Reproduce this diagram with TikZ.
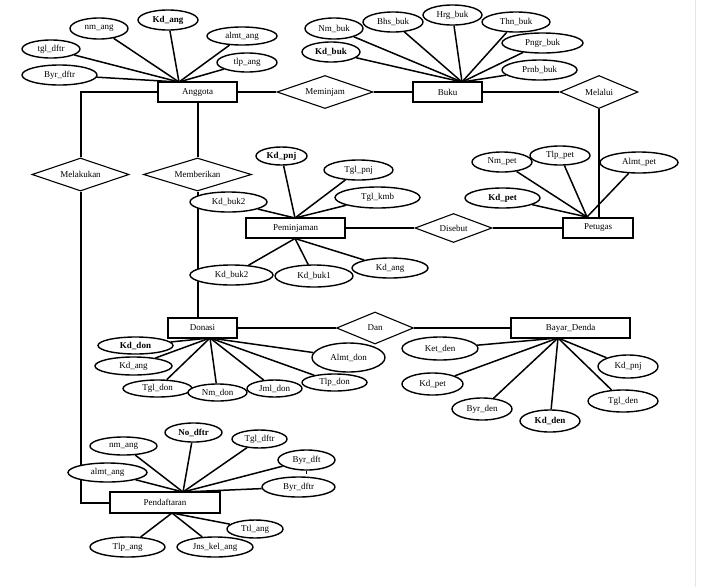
\documentclass[tikz,border=0pt]{standalone}
\usepackage{fontspec}
\setmainfont{Liberation Serif}
\usetikzlibrary{shapes.geometric,backgrounds}
\definecolor{tepigray}{HTML}{E4E4E4}

\begin{document}
\begin{tikzpicture}[x=1pt,y=-1pt,
    teks/.style={font=\fontsize{9}{10}\selectfont},
    entitas/.style={teks,draw,rectangle,line width=2pt,fill=white,minimum height=20pt,inner sep=0pt},
    atribut/.style={teks,draw,ellipse,line width=1.4pt,fill=white,minimum height=19pt,inner sep=0pt},
    kunci/.style={atribut,font=\fontsize{9}{10}\selectfont\bfseries},
    relasi/.style={teks,draw,diamond,aspect=3,line width=1.1pt,fill=white,minimum height=33pt,inner sep=0pt},
    garis/.style={line width=1.5pt},
    garisrel/.style={line width=2pt}]
\useasboundingbox (0,0) rectangle (707,587);
\draw[tepigray] (695,0) -- (695,587);

% Entitas
\node[entitas,minimum width=79pt] (anggota) at (197.5,92) {Anggota};
\node[entitas,minimum width=69pt] (buku) at (447.5,92) {Buku};
\node[entitas,minimum width=70pt] (petugas) at (598,228) {Petugas};
\node[entitas,minimum width=99pt] (peminjaman) at (295.5,228) {Peminjaman};
\node[entitas,minimum width=69pt] (donasi) at (202.5,328) {Donasi};
\node[entitas,minimum width=119pt] (bayar) at (570.5,328) {Bayar\_Denda};
\node[entitas,minimum width=110pt,minimum height=21pt] (pendaftaran) at (165,502.5) {Pendaftaran};

% Relasi
\node[relasi,minimum width=96pt] (meminjam) at (325,92) {Meminjam};
\node[relasi,minimum width=78pt] (melalui) at (599,92) {Melalui};
\node[relasi,minimum width=97pt] (melakukan) at (80.5,174.5) {Melakukan};
\node[relasi,minimum width=108pt] (memberikan) at (197.5,174.5) {Memberikan};
\node[relasi,minimum width=77pt,minimum height=29pt] (disebut) at (453.5,228) {Disebut};
\node[relasi,minimum width=77pt,minimum height=32pt] (dan) at (375,328) {Dan};

% Titik temu garis atribut
\coordinate (hubang) at (179,82);
\coordinate (hubbuk) at (462,82);
\coordinate (hubpet) at (587,217);
\coordinate (hubpnj) at (295,218);
\coordinate (hubpnjb) at (295,238.5);
\coordinate (hubdon) at (210,338);
\coordinate (hubden) at (558,338);
\coordinate (hubdft) at (183,492);
\coordinate (hubdftb) at (172,513);

% Atribut Anggota
\node[atribut,minimum width=58pt,minimum height=21pt] (nmang) at (99,28.5) {nm\_ang};
\node[kunci,minimum width=60pt,minimum height=20pt] (kdang) at (168,20) {Kd\_ang};
\node[atribut,minimum width=70pt,minimum height=18pt] (almtang) at (242,36) {almt\_ang};
\node[atribut,minimum width=60pt] (tlpang) at (247,62.5) {tlp\_ang};
\node[atribut,minimum width=58pt,minimum height=18pt] (tgldftr) at (51,49) {tgl\_dftr};
\node[atribut,minimum width=75pt,minimum height=20pt] (byrdftr) at (59.5,75) {Byr\_dftr};

% Atribut Buku
\node[atribut,minimum width=58pt,minimum height=21pt] (nmbuk) at (334,28.5) {Nm\_buk};
\node[atribut,minimum width=60pt,minimum height=20pt] (bhsbuk) at (393,22) {Bhs\_buk};
\node[atribut,minimum width=59pt,minimum height=20pt] (hrgbuk) at (452.5,15) {Hrg\_buk};
\node[atribut,minimum width=68pt,minimum height=20pt] (thnbuk) at (516,22) {Thn\_buk};
\node[atribut,minimum width=81pt,minimum height=20pt] (pngrbuk) at (542.5,43) {Pngr\_buk};
\node[atribut,minimum width=75pt,minimum height=20pt] (prnbbuk) at (539.5,70) {Prnb\_buk};
\node[kunci,minimum width=58pt,minimum height=20pt] (kdbuk) at (331,52) {Kd\_buk};

% Atribut Petugas
\node[atribut,minimum width=60pt,minimum height=20pt] (nmpet) at (502,162) {Nm\_pet};
\node[atribut,minimum width=60pt] (tlppet) at (560,155.5) {Tlp\_pet};
\node[atribut,minimum width=78pt,minimum height=21pt] (almtpet) at (639,162.5) {Almt\_pet};
\node[kunci,minimum width=75pt,minimum height=20pt] (kdpet) at (502.5,198) {Kd\_pet};

% Atribut Peminjaman
\node[kunci,minimum width=51pt,minimum height=18pt] (kdpnj) at (281.5,156) {Kd\_pnj};
\node[atribut,minimum width=69pt,minimum height=20pt] (tglpnj) at (358.5,170) {Tgl\_pnj};
\node[atribut,minimum width=85pt,minimum height=21pt] (tglkmb) at (377.5,197.5) {Tgl\_kmb};
\node[atribut,minimum width=77pt,minimum height=20pt] (kdbukA) at (228.5,202) {Kd\_buk2};
\node[atribut,minimum width=83pt,minimum height=20pt] (kdbukB) at (231.5,275) {Kd\_buk2};
\node[atribut,minimum width=78pt,minimum height=22pt] (kdbukC) at (314,276) {Kd\_buk1};
\node[atribut,minimum width=76pt,minimum height=20pt] (kdangpnj) at (390,268) {Kd\_ang};

% Atribut Donasi
\node[atribut,minimum width=73pt,minimum height=29pt] (almtdon) at (348.5,357.5) {Almt\_don};
\node[kunci,minimum width=75pt,minimum height=17pt] (kddon) at (135.5,345.5) {Kd\_don};
\node[atribut,minimum width=77pt,minimum height=18pt] (kdangdon) at (133.5,366) {Kd\_ang};
\node[atribut,minimum width=65pt,minimum height=17pt] (tlpdon) at (334.5,382.5) {Tlp\_don};
\node[atribut,minimum width=69pt,minimum height=17pt] (tgldon) at (157.5,388.5) {Tgl\_don};
\node[atribut,minimum width=55pt,minimum height=17pt] (jmldon) at (274.5,388.5) {Jml\_don};
\node[atribut,minimum width=59pt,minimum height=17pt] (nmdon) at (217.5,392.5) {Nm\_don};

% Atribut Bayar_Denda
\node[atribut,minimum width=76pt,minimum height=23pt] (ketden) at (440,348.5) {Ket\_den};
\node[atribut,minimum width=61pt,minimum height=22pt] (kdpetden) at (432.5,384) {Kd\_pet};
\node[atribut,minimum width=60pt,minimum height=22pt] (byrden) at (482,409) {Byr\_den};
\node[kunci,minimum width=60pt,minimum height=22pt] (kdden) at (550,421) {Kd\_den};
\node[atribut,minimum width=70pt,minimum height=22pt] (tglden) at (623,401) {Tgl\_den};
\node[atribut,minimum width=60pt,minimum height=23pt] (kdpnjden) at (628,366.5) {Kd\_pnj};

% Atribut Pendaftaran
\node[kunci,minimum width=57pt] (nodftr) at (193.5,432.5) {No\_dftr};
\node[atribut,minimum width=67pt,minimum height=18pt] (nmangdft) at (123.5,446) {nm\_ang};
\node[atribut,minimum width=55pt,minimum height=18pt] (tgldftrdft) at (259.5,439) {Tgl\_dftr};
\node[atribut,minimum width=79pt] (almtangdft) at (107.5,472.5) {almt\_ang};
\node[atribut,minimum width=57pt,minimum height=20pt] (byrdft) at (306.5,460) {Byr\_dft};
\node[atribut,minimum width=73pt,minimum height=20pt] (byrdftrdft) at (298.5,487) {Byr\_dftr};
\node[atribut,minimum width=56pt,minimum height=18pt] (ttlang) at (255,529) {Ttl\_ang};
\node[atribut,minimum width=75pt,minimum height=20pt] (tlpangdft) at (127.5,547) {Tlp\_ang};
\node[atribut,minimum width=76pt,minimum height=20pt] (jnskel) at (215,547) {Jns\_kel\_ang};

\begin{scope}[on background layer]
% Relasi antar entitas
\draw[garisrel] (anggota) -- (meminjam) -- (buku) -- (melalui);
\draw[garisrel] (melalui.south) -- (melalui.south |- petugas.north);
\draw[garisrel] (peminjaman) -- (disebut) -- (petugas);
\draw[garisrel] (donasi) -- (dan) -- (bayar);
\draw[garisrel] (anggota.west) -| (melakukan.north);
\draw[garisrel] (melakukan.south) |- (pendaftaran.west);
\draw[garisrel] (anggota.south) -- (memberikan.north);
\draw[garisrel] (memberikan.south) -- (memberikan.south |- donasi.north);

% Garis atribut
\foreach \a in {nmang,kdang,almtang,tlpang,tgldftr,byrdftr}
    \draw[garis] (\a) -- (hubang);
\foreach \a in {nmbuk,bhsbuk,hrgbuk,thnbuk,pngrbuk,prnbbuk,kdbuk}
    \draw[garis] (\a) -- (hubbuk);
\foreach \a in {nmpet,tlppet,almtpet,kdpet}
    \draw[garis] (\a) -- (hubpet);
\foreach \a in {kdpnj,tglpnj,tglkmb,kdbukA}
    \draw[garis] (\a) -- (hubpnj);
\foreach \a in {kdbukB,kdbukC,kdangpnj}
    \draw[garis] (\a) -- (hubpnjb);
\foreach \a in {almtdon,kddon,kdangdon,tlpdon,tgldon,jmldon,nmdon}
    \draw[garis] (\a) -- (hubdon);
\foreach \a in {ketden,kdpetden,byrden,kdden,tglden,kdpnjden}
    \draw[garis] (\a) -- (hubden);
\foreach \a in {nodftr,nmangdft,tgldftrdft,almtangdft,byrdft,byrdftrdft}
    \draw[garis] (\a) -- (hubdft);
\foreach \a in {ttlang,tlpangdft,jnskel}
    \draw[garis] (\a) -- (hubdftb);
\end{scope}
\draw[line width=0.8pt] (byrdft.south) -- ++(0,3);
\end{tikzpicture}
\end{document}
